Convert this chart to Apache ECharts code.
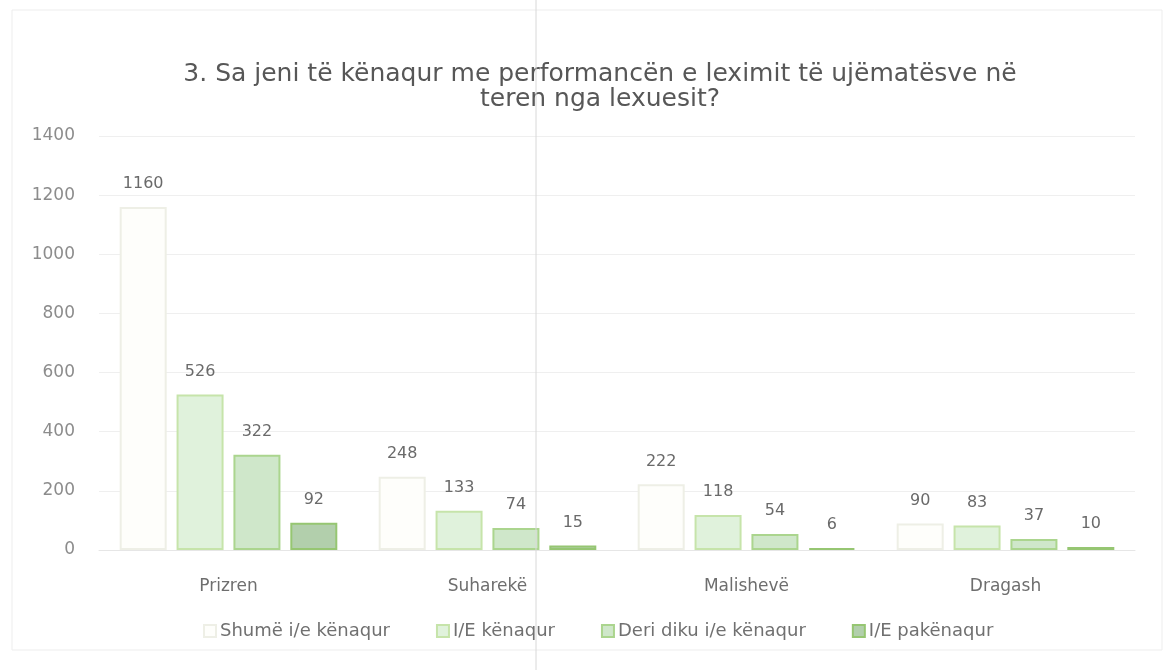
<!DOCTYPE html>
<html>
<head>
<meta charset="utf-8">
<script src="https://cdn.jsdelivr.net/npm/echarts@6/dist/echarts.min.js"></script>
<style>
  html, body { margin: 0; padding: 0; background: #fff; }
  #chart { width: 1172px; height: 670px; }
</style>
</head>
<body>
<div id="chart"></div>
<script>
  const cities = ['Prizren', 'Suharekë', 'Malishevë', 'Dragash'];
  const seriesNames = ['Shumë i/e kënaqur', 'I/E kënaqur', 'Deri diku i/e kënaqur', 'I/E pakënaqur'];
  const shume = [1160, 248, 222, 90];
  const kenaqur = [526, 133, 118, 83];
  const deriDiku = [322, 74, 54, 37];
  const pakenaqur = [92, 15, 6, 10];

  const fills = ['#fefefb', '#e0f2dc', '#cfe7ca', '#b2cfac'];
  const borders = ['#eeefe6', '#c6e4aa', '#abd58e', '#96c672'];

  const chart = echarts.init(document.getElementById('chart'));
  const font = '"DejaVu Sans", sans-serif';

  function bar(i, data) {
    return {
      name: seriesNames[i],
      type: 'bar',
      data: data,
      barWidth: 47,
      barGap: '21%',
      itemStyle: { color: fills[i], borderColor: borders[i], borderWidth: 2 },
      label: {
        show: true,
        position: 'top',
        distance: 15,
        fontFamily: font,
        fontSize: 16,
        color: '#6a6a6a'
      }
    };
  }

  chart.setOption({
    animation: false,
    title: {
      text: '3. Sa jeni të kënaqur me performancën e leximit të ujëmatësve në\nteren nga lexuesit?',
      left: 595,
      textAlign: 'center',
      top: 57,
      textStyle: { fontFamily: font, fontSize: 25, fontWeight: 'normal', color: '#575757', lineHeight: 25 }
    },
    legend: {
      data: seriesNames,
      bottom: 25,
      left: 198,
      itemWidth: 12,
      itemHeight: 12,
      itemGap: 46,
      icon: 'rect',
      textStyle: { fontFamily: font, fontSize: 18, color: '#707070', padding: [0, 0, 0, -1] }
    },
    grid: { left: 99, width: 1036, top: 136, height: 414 },
    xAxis: {
      type: 'category',
      data: cities,
      axisLine: { lineStyle: { color: '#e6e6e6' } },
      axisTick: { show: false },
      axisLabel: { fontFamily: font, fontSize: 17, color: '#6e6e6e', margin: 28 }
    },
    yAxis: {
      type: 'value',
      min: 0,
      max: 1400,
      interval: 200,
      axisLine: { show: false },
      axisTick: { show: false },
      axisLabel: { fontFamily: font, fontSize: 17, color: '#8c8c8c', margin: 24, formatter: v => String(v) },
      splitLine: { lineStyle: { color: '#efefef' } }
    },
    graphic: [
      { type: 'rect', shape: { x: 12, y: 10, width: 1150, height: 640 }, style: { fill: 'none', stroke: '#ededed', lineWidth: 1 }, z: -1 },
      { type: 'line', shape: { x1: 536, y1: 0, x2: 536, y2: 670 }, style: { stroke: '#d8d8d8', lineWidth: 1 }, z: 100 }
    ],
    series: [bar(0, shume), bar(1, kenaqur), bar(2, deriDiku), bar(3, pakenaqur)]
  });
</script>
</body>
</html>
